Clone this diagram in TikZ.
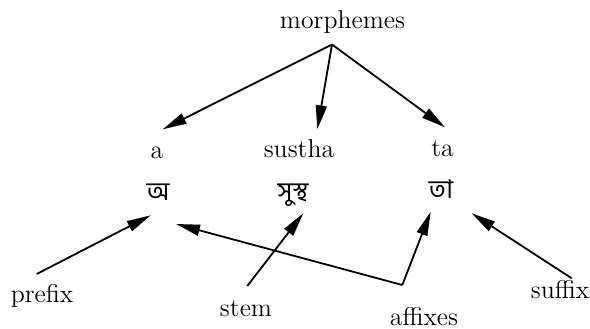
\documentclass[tikz,border=0pt]{standalone}
\usepackage{fontspec}
\newfontfamily\bengfont[Script=Bengali]{Hind Siliguri}
\usetikzlibrary{arrows.meta}
\tikzset{
  word/.style={anchor=base, inner sep=0pt, font=\fontsize{12.9}{15}\selectfont},
  bword/.style={anchor=base, inner sep=0pt, font=\fontsize{12.9}{15}\selectfont\bengfont},
  link/.style={-{Triangle[length=12pt, width=5.5pt]}, line width=0.9pt, draw=black}
}

\begin{document}
\begin{tikzpicture}[x=0.5pt, y=-0.5pt]
  \useasboundingbox (0,0) rectangle (590,328);

  \node[word] (morph) at (342.5,28.5) {morphemes};
  \node[word] (a) at (157,158) {a};
  \node[word] (sustha) at (299,157) {sustha};
  \node[word] (ta) at (442.5,156) {ta};
  \node[bword] (ba) at (158,200) {অ};
  \node[bword] (bsustha) at (293,200) {সুস্থ};
  \node[bword] (bta) at (441,198) {তা};
  \node[word] (prefix) at (42,302) {prefix};
  \node[word] (stem) at (246,316) {stem};
  \node[word] (affixes) at (424,325) {affixes};
  \node[word] (suffix) at (560,298) {suffix};
  \coordinate (fork) at ([shift={(-21.7,-40)}]affixes.base);

  \draw[link] ([shift={(-10.5,16)}]morph.base) -- ([shift={(5.7,-28.7)}]a.base);
  \draw[link] ([shift={(-10.5,16)}]morph.base) -- ([shift={(18.3,-27.7)}]sustha.base);
  \draw[link] ([shift={(-10.5,16)}]morph.base) -- ([shift={(2.5,-28.7)}]ta.base);

  \draw[link] ([shift={(-5.3,-28)}]prefix.base) -- ([shift={(-7.3,15.3)}]ba.base);
  \draw[link] ([shift={(1.3,-30)}]stem.base) -- ([shift={(10.3,13.3)}]bsustha.base);
  \draw[link] (fork) -- ([shift={(18,24)}]ba.base);
  \draw[link] (fork) -- ([shift={(-10.3,13.7)}]bta.base);
  \draw[link] ([shift={(11.7,-19.7)}]suffix.base) -- ([shift={(30.7,15.3)}]bta.base);
\end{tikzpicture}
\end{document}
